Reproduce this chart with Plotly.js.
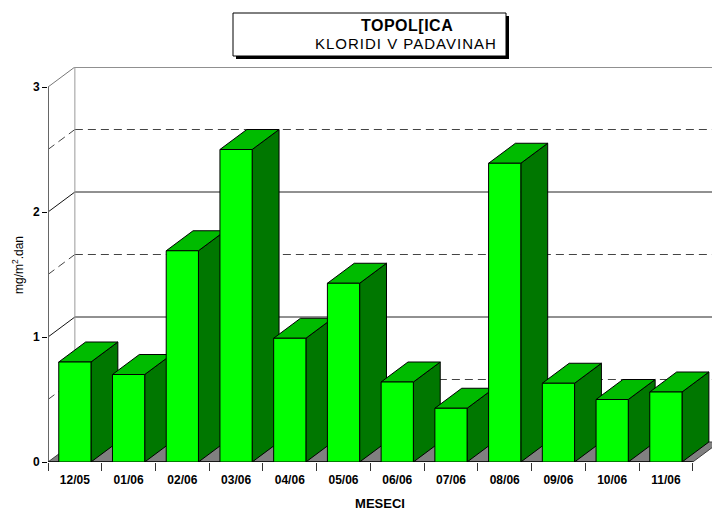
<!DOCTYPE html>
<html>
<head>
<meta charset="utf-8">
<script src="https://cdn.plot.ly/plotly-3.0.1.min.js"></script>
<style>html,body{margin:0;padding:0;background:#fff;}#chart{width:712px;height:511px;}</style>
</head>
<body>
<div id="chart"></div>
<script>
// ---- data ----
const months = ['12/05','01/06','02/06','03/06','04/06','05/06','06/06','07/06','08/06','09/06','10/06','11/06'];
const chlorides = [0.80, 0.70, 1.69, 2.50, 0.99, 1.43, 0.64, 0.43, 2.39, 0.63, 0.50, 0.56];
const yTickVals = [0, 1, 2, 3];
const yTickText = ['0', '1', '2', '3'];
const solidGrid = [1, 2, 3];
const dashedGrid = [0.5, 1.5, 2.5];
const titleMain = 'TOPOL[ICA';
const titleSub = 'KLORIDI V PADAVINAH';
const xTitle = 'MESECI';
const yTitle = 'mg/m<sup>2</sup>.dan';

// ---- pseudo 3D geometry (in axis units) ----
const DX = 0.5, DY = 0.16, HW = 0.3;
const n = months.length;
const FONT = 'Liberation Sans, Arial, sans-serif';

const shapes = [];
// floor
shapes.push({type:'path', xref:'x', yref:'y', layer:'below',
  path:`M -0.5 0 L ${n-0.5} 0 L ${n-0.5+DX} ${DY} L ${-0.5+DX} ${DY} Z`,
  fillcolor:'#808080', line:{color:'#404040', width:1}});
// back wall and left wall grid
solidGrid.forEach(v => {
  shapes.push({type:'line', xref:'x', yref:'y', layer:'below', x0:-0.5+DX, x1:n+1, y0:v+DY, y1:v+DY, line:{color:'#222', width:1}});
  shapes.push({type:'line', xref:'x', yref:'y', layer:'below', x0:-0.5, x1:-0.5+DX, y0:v, y1:v+DY, line:{color: v===3 ? '#777' : '#111', width:1}});
});
dashedGrid.forEach(v => {
  shapes.push({type:'line', xref:'x', yref:'y', layer:'below', x0:-0.5+DX, x1:n+1, y0:v+DY, y1:v+DY, line:{color:'#444', width:1, dash:'8px,5px'}});
  shapes.push({type:'line', xref:'x', yref:'y', layer:'below', x0:-0.5, x1:-0.5+DX, y0:v, y1:v+DY, line:{color:'#444', width:1, dash:'8px,5px'}});
});
// back-left vertical edge
shapes.push({type:'line', xref:'x', yref:'y', layer:'below', x0:-0.5+DX, x1:-0.5+DX, y0:DY, y1:3+DY, line:{color:'#999', width:1}});
// y axis line
shapes.push({type:'line', xref:'x', yref:'y', layer:'below', x0:-0.5, x1:-0.5, y0:0, y1:3, line:{color:'#666', width:2}});
// bar sides and tops
chlorides.forEach((v, i) => {
  shapes.push({type:'path', xref:'x', yref:'y', layer:'below',
    path:`M ${i+HW} 0 L ${i+HW+DX} ${DY} L ${i+HW+DX} ${v+DY} L ${i+HW} ${v} Z`,
    fillcolor:'#007700', line:{color:'#000', width:1}});
  shapes.push({type:'path', xref:'x', yref:'y', layer:'below',
    path:`M ${i-HW} ${v} L ${i-HW+DX} ${v+DY} L ${i+HW+DX} ${v+DY} L ${i+HW} ${v} Z`,
    fillcolor:'#00bb00', line:{color:'#000', width:1}});
});
// x axis line
shapes.push({type:'line', xref:'x', yref:'y', layer:'below', x0:-0.5, x1:n-0.5, y0:0, y1:0, line:{color:'#000', width:1.5}});

// title box (shadow + box)
const W = 712, H = 511, ML = 48, MR = 0, MT = 67, MB = 49;
const pw = W - ML - MR, ph = H - MT - MB;
const px = p => (p - ML) / pw;
const py = p => (H - MB - p) / ph;
shapes.push({type:'rect', xref:'paper', yref:'paper', x0:px(236), x1:px(509), y0:py(59), y1:py(16), fillcolor:'#000', line:{width:0}});
shapes.push({type:'rect', xref:'paper', yref:'paper', x0:px(233), x1:px(506), y0:py(56), y1:py(13), fillcolor:'#fff', line:{color:'#000', width:1}});

const traces = [{
  type:'bar', x: months, y: chlorides, width: 2*HW,
  marker:{color:'#00ff00', line:{color:'#000', width:1}},
  hoverinfo:'x+y'
}];

const layout = {
  width: W, height: H,
  margin:{l:ML, r:MR, t:MT, b:MB, pad:0},
  paper_bgcolor:'#fff', plot_bgcolor:'rgba(0,0,0,0)',
  showlegend:false,
  font:{family:FONT, color:'#000'},
  xaxis:{type:'category', range:[-0.5, -0.5 + pw/53.73], tickson:'boundaries',
    ticks:'outside', ticklen:8, tickcolor:'#333', tickwidth:1, ticklabelstandoff:9,
    showgrid:false, zeroline:false, showline:false,
    tickfont:{family:FONT, size:12, weight:'bold'},
    title:{text:xTitle, font:{family:FONT, size:13, weight:'bold'}, standoff:12}},
  yaxis:{range:[0, ph/125], tickvals:yTickVals, ticktext:yTickText,
    ticks:'outside', ticklen:5, tickcolor:'#000',
    showgrid:false, zeroline:false, showline:false,
    tickfont:{family:FONT, size:12, weight:'bold'}},
  shapes: shapes,
  annotations:[
    {xref:'paper', yref:'paper', x:px(407), y:py(25), text:'<b><span style="letter-spacing:0.5px">'+titleMain+'</span></b>', showarrow:false,
      font:{family:FONT, size:16}, xanchor:'center', yanchor:'middle'},
    {xref:'paper', yref:'paper', x:px(406), y:py(44), text:'<span style="letter-spacing:1px">'+titleSub+'</span>', showarrow:false,
      font:{family:FONT, size:15}, xanchor:'center', yanchor:'middle'},
    {xref:'paper', yref:'paper', x:px(18), y:py(265), text:yTitle, showarrow:false, textangle:-90,
      font:{family:FONT, size:12}, xanchor:'center', yanchor:'middle'}
  ]
};

Plotly.newPlot('chart', traces, layout, {displayModeBar:false, staticPlot:true});
</script>
</body>
</html>
